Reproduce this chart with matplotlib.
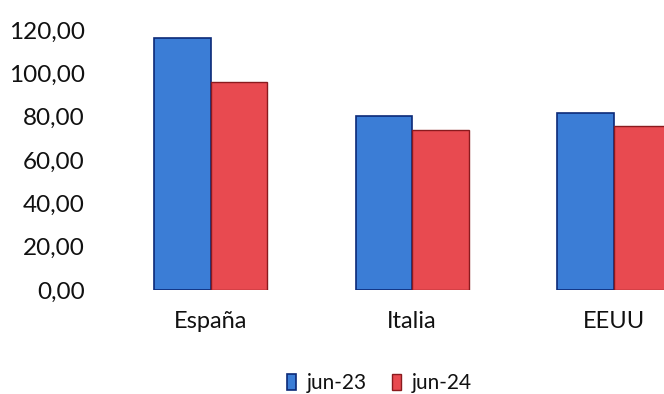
"""Grouped bars: España / Italia / EEUU, jun-23 vs jun-24."""

import matplotlib.pyplot as plt
import numpy as np
from matplotlib.ticker import FuncFormatter

categories = ["España", "Italia", "EEUU"]
series_names = ["jun-23", "jun-24"]
values_jun23 = [116.5, 80.5, 81.5]
values_jun24 = [96.0, 74.0, 75.5]
yticks = [0, 20, 40, 60, 80, 100, 120]

plt.rcParams["font.family"] = ["Lato", "DejaVu Sans"]

fig = plt.figure(figsize=(6.64, 3.94), dpi=100)
ax = fig.add_axes([110 / 664, 104 / 394, 554 / 664, 260 / 394])

x = np.arange(len(categories))
w = 0.28
ax.bar(x - w / 2, values_jun23, w, color="#3b7dd6", edgecolor="#0c2a78",
       linewidth=1.2, label=series_names[0])
ax.bar(x + w / 2, values_jun24, w, color="#e84a50", edgecolor="#8a1a1e",
       linewidth=1.0, label=series_names[1])

ax.set_xlim(-0.5, 2.25)
ax.set_ylim(0, 120)
ax.set_yticks(yticks)
ax.yaxis.set_major_formatter(FuncFormatter(lambda v, _: f"{v:.2f}".replace(".", ",")))
ax.set_xticks(x)
ax.set_xticklabels(categories)
ax.tick_params(axis="y", length=0, pad=18, labelsize=17.5, labelcolor="#111111")
ax.tick_params(axis="x", length=0, pad=15, labelsize=17, labelcolor="#111111")
for s in ax.spines.values():
    s.set_visible(False)

leg = fig.legend(loc="center", bbox_to_anchor=(0.571, 0.027), ncol=2, frameon=False,
                 fontsize=15, handlelength=0.45, handleheight=0.8, columnspacing=1.2,
                 handletextpad=0.5)
for t in leg.get_texts():
    t.set_color("#111111")

fig.savefig("out.png", dpi=100)
